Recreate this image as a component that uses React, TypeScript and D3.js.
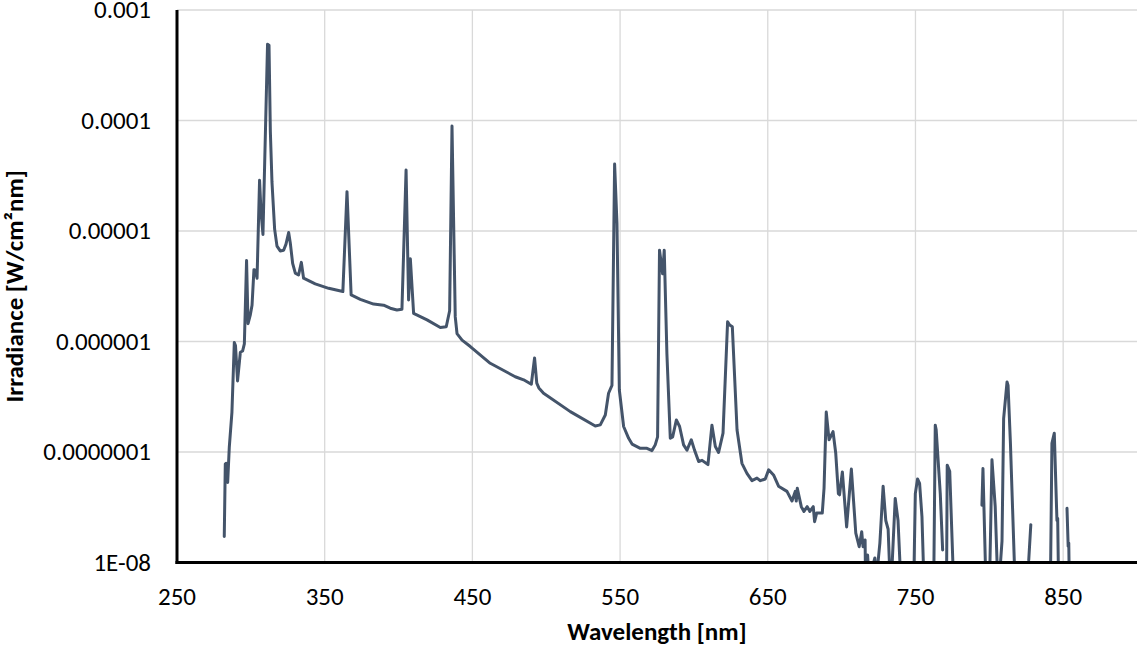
import React from "react";
import * as d3 from "d3";

const wavelength: number[] = [
  282.0, 282.7, 283.3, 284.3, 285.4, 287.2, 288.8, 289.6, 291.0, 292.9, 294.4, 295.6, 297.1, 298.1, 299.6,
  300.8, 302.1, 303.0, 304.2, 305.9, 306.9, 308.2, 311.3, 312.3, 313.2, 314.3, 316.1, 317.7, 319.9, 322.2,
  323.8, 325.6, 326.7, 328.3, 330.1, 332.3, 334.2, 335.7, 343.6, 352.7, 362.3, 365.1, 367.9, 374.1, 383.1,
  389.9, 394.4, 398.9, 402.3, 405.1, 406.8, 408.0, 410.2, 419.3, 428.3, 432.3, 434.6, 436.2, 438.4, 439.6,
  443.0, 448.6, 462.1, 479.0, 484.7, 489.9, 492.1, 493.6, 495.0, 498.2, 516.3, 533.2, 536.6, 540.0, 542.2,
  544.5, 546.3, 547.9, 549.5, 552.4, 555.8, 558.1, 563.7, 568.2, 571.6, 573.8, 575.4, 576.7, 578.8, 579.9,
  581.7, 584.0, 585.6, 588.1, 590.3, 593.0, 595.3, 598.2, 600.4, 603.2, 605.5, 609.5, 612.2, 614.5, 616.7,
  619.7, 622.8, 624.2, 626.0, 629.2, 632.5, 635.9, 639.3, 642.7, 645.0, 648.3, 650.6, 653.9, 657.3, 663.0,
  666.4, 668.6, 669.3, 670.0, 672.7, 674.5, 676.7, 678.5, 680.8, 681.7, 683.1, 686.9, 688.1, 689.6, 691.5,
  694.2, 696.0, 697.8, 698.6, 700.5, 703.4, 706.6, 709.6, 711.9, 713.6, 714.5, 715.9, 716.3, 717.6, 718.6,
  722.5, 723.5, 725.9, 728.1, 729.9, 731.5, 733.2, 736.3, 738.2, 740.5, 748.7, 749.9, 751.4, 752.8, 754.4,
  756.0, 762.3, 763.4, 764.0, 766.8, 768.4, 770.0, 771.0, 771.5, 773.2, 776.1, 785.0, 795.0, 795.7, 797.9,
  800.0, 801.8, 804.0, 806.0, 808.6, 809.7, 812.0, 812.7, 814.3, 817.7, 822.0, 826.7, 828.1, 835.0, 841.3,
  842.4, 844.0, 845.8, 846.3, 847.0, 850.0, 852.6, 853.4, 853.8, 854.3,
];

const irradiance: (number | null)[] = [
  1.72e-8, 7.8e-8, 7.9e-8, 5.3e-8, 1.1e-7, 2.3e-7, 9.8e-7, 9.2e-7, 4.4e-7, 8.0e-7, 8.2e-7, 9.5e-7, 5.4e-6, 1.45e-6, 1.73e-6,
  2.13e-6, 4.47e-6, 4.4e-6, 3.74e-6, 2.88e-5, 1.48e-5, 9.3e-6, 4.9e-4, 4.8e-4, 8.0e-5, 2.78e-5, 1.04e-5, 7.3e-6, 6.6e-6, 6.7e-6,
  7.6e-6, 9.7e-6, 7.8e-6, 5.1e-6, 4.16e-6, 4.0e-6, 5.2e-6, 3.74e-6, 3.32e-6, 3.03e-6, 2.83e-6, 2.27e-5, 2.64e-6, 2.41e-6, 2.18e-6,
  2.13e-6, 2.0e-6, 1.93e-6, 1.96e-6, 3.56e-5, 2.38e-6, 5.6e-6, 1.8e-6, 1.57e-6, 1.34e-6, 1.36e-6, 1.9e-6, 8.9e-5, 1.67e-6, 1.18e-6,
  1.03e-6, 9.0e-7, 6.35e-7, 4.8e-7, 4.5e-7, 4.1e-7, 7.1e-7, 4.2e-7, 3.8e-7, 3.4e-7, 2.32e-7, 1.72e-7, 1.76e-7, 2.16e-7, 3.4e-7,
  4.0e-7, 4.04e-5, 1.17e-5, 3.64e-7, 1.7e-7, 1.33e-7, 1.18e-7, 1.08e-7, 1.08e-7, 1.03e-7, 1.16e-7, 1.37e-7, 6.7e-6, 4.1e-6, 6.7e-6,
  7.8e-7, 1.33e-7, 1.37e-7, 1.95e-7, 1.7e-7, 1.16e-7, 1.04e-7, 1.29e-7, 1.04e-7, 8.2e-8, 8.4e-8, 7.7e-8, 1.75e-7, 1.12e-7, 9.9e-8,
  1.48e-7, 1.51e-6, 1.41e-6, 1.36e-6, 1.58e-7, 7.9e-8, 6.4e-8, 5.5e-8, 5.8e-8, 5.5e-8, 5.7e-8, 6.9e-8, 6.2e-8, 4.9e-8, 4.4e-8,
  3.6e-8, 4.4e-8, 3.6e-8, 4.7e-8, 3.2e-8, 2.9e-8, 3.2e-8, 2.9e-8, 3.2e-8, 2.34e-8, 2.8e-8, 2.8e-8, 4.7e-8, 2.3e-7, 1.29e-7,
  1.53e-7, 9.8e-8, 4.2e-8, 4.1e-8, 6.6e-8, 2.1e-8, 7.0e-8, 1.84e-8, 1.39e-8, 1.9e-8, 1.39e-8, 1.6e-8, 5e-9, 1.17e-8, 7e-9,
  1.1e-8, 7e-9, 1.5e-8, 4.9e-8, 2.4e-8, 2.0e-8, 5e-9, 3.8e-8, 2.4e-8, 5e-9, 5e-9, 4.2e-8, 5.7e-8, 5.2e-8, 2.6e-8,
  5e-9, 5e-9, 1.75e-7, 1.6e-7, 4.2e-8, 1.3e-8, null, 5e-9, 7.6e-8, 6.7e-8, 5e-9, null, 3.3e-8, 7.1e-8, 5e-9,
  5e-9, 8.5e-8, 3.2e-8, 5e-9, 1.56e-8, 2.0e-7, 4.3e-7, 4.0e-7, 1.2e-7, 5e-9, null, 1.05e-8, 2.2e-8, null, 5e-9,
  1.2e-7, 1.48e-7, 2.4e-8, 2.5e-8, 5e-9, null, 3.1e-8, 1.4e-8, 1.5e-8, 5e-9,
];

const xTicks: number[] = [250, 350, 450, 550, 650, 750, 850];
const yTicks: number[] = [1e-8, 1e-7, 1e-6, 1e-5, 1e-4, 1e-3];
const yTickLabels: string[] = ["1E-08", "0.0000001", "0.000001", "0.00001", "0.0001", "0.001"];
const xTitle = "Wavelength [nm]";
const yTitle = "Irradiance [W/cm²nm]";

const W = 1139;
const H = 646;
const left = 177;
const right = 1137;
const top = 10;
const bottom = 562.5;
const FONT = "Calibri, Carlito, 'Open Sans', Lato, sans-serif";
const FS = 25;

export default function App() {
  const x = d3.scaleLinear().domain([250, 900]).range([left, right]);
  const y = d3.scaleLog().domain([1e-8, 1e-3]).range([bottom, top]);

  const pts = wavelength.map((w, i) => ({ w, v: irradiance[i] }));
  const line = d3
    .line<{ w: number; v: number | null }>()
    .defined((d) => d.v != null && d.v > 0)
    .x((d) => x(d.w))
    .y((d) => y(d.v as number));

  return (
    <svg
      width={W}
      height={H}
      style={{ position: "absolute", left: 0, top: 0, background: "#fff" }}
      fontFamily={FONT}
    >
      <defs>
        <clipPath id="plotclip">
          <rect x={left} y={top - 5} width={right - left} height={bottom - top + 5} />
        </clipPath>
      </defs>
      {yTicks.slice(1).map((t) => (
        <line key={"h" + t} x1={left} x2={right} y1={y(t)} y2={y(t)} stroke="#d9d9d9" strokeWidth={1.3} />
      ))}
      {xTicks.slice(1).map((t) => (
        <line key={"v" + t} x1={x(t)} x2={x(t)} y1={top} y2={bottom} stroke="#d9d9d9" strokeWidth={1.3} />
      ))}
      <path
        d={line(pts) || ""}
        fill="none"
        stroke="#44546A"
        strokeWidth={3}
        strokeLinejoin="round"
        strokeLinecap="round"
        clipPath="url(#plotclip)"
      />
      <line x1={left} x2={left} y1={top} y2={bottom + 1.5} stroke="#000" strokeWidth={3} />
      <line x1={left - 1.5} x2={right} y1={bottom} y2={bottom} stroke="#000" strokeWidth={3} />
      {yTicks.map((t, i) => (
        <text key={"yl" + t} x={151} y={y(t)} dy="0.32em" textAnchor="end" fontSize={FS} fill="#000">
          {yTickLabels[i]}
        </text>
      ))}
      {xTicks.map((t) => (
        <text key={"xl" + t} x={x(t)} y={605} textAnchor="middle" fontSize={FS} fill="#000">
          {t}
        </text>
      ))}
      <text x={(left + right) / 2} y={640} textAnchor="middle" fontSize={FS} fontWeight="bold" fill="#000">
        {xTitle}
      </text>
      <text
        transform={`translate(23, ${(top + bottom) / 2}) rotate(-90)`}
        textAnchor="middle"
        fontSize={FS}
        fontWeight="bold"
        fill="#000"
      >
        {yTitle}
      </text>
    </svg>
  );
}
